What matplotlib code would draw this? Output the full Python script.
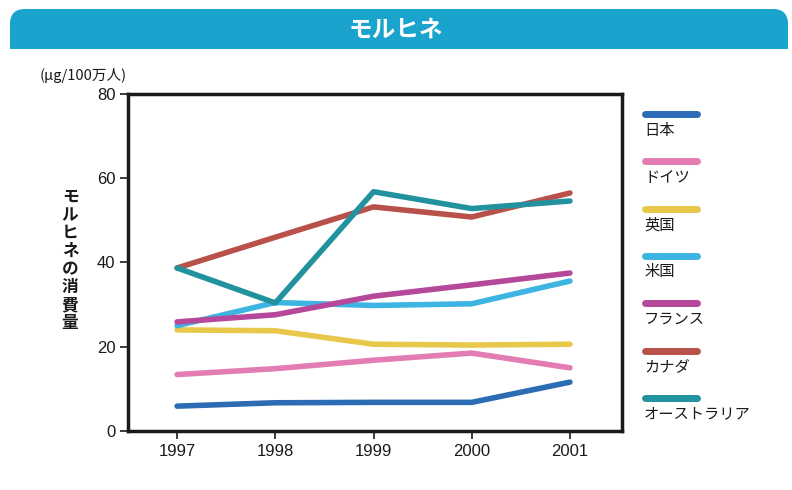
import matplotlib.pyplot as plt
from matplotlib.patches import FancyBboxPatch, Rectangle

plt.rcParams['font.family'] = ['Noto Sans CJK JP', 'DejaVu Sans']

years = [1997, 1998, 1999, 2000, 2001]
countries = ["日本", "ドイツ", "英国", "米国", "フランス", "カナダ", "オーストラリア"]
japan = [5.9, 6.7, 6.8, 6.8, 11.6]
germany = [13.4, 14.8, 16.8, 18.5, 15.0]
uk = [24.0, 23.8, 20.6, 20.4, 20.6]
usa = [25.0, 30.5, 29.8, 30.2, 35.6]
france = [25.9, 27.6, 32.0, 34.7, 37.5]
canada = [38.7, 46.0, 53.2, 50.8, 56.5]
australia = [38.7, 30.4, 56.8, 52.8, 54.6]
series = [japan, germany, uk, usa, france, canada, australia]
colors = ["#2b6cb4", "#e27cb3", "#e8c84a", "#3db4e2", "#b6489b", "#b9514b", "#22929f"]

fig = plt.figure(figsize=(7.92, 4.9), dpi=100)

# title banner: rounded top corners, square bottom
bc = "#1aa3cc"
banner = FancyBboxPatch((10 / 792, 1 - 49 / 490), 778 / 792, 40 / 490,
                        boxstyle="round,pad=0,rounding_size=0.019",
                        transform=fig.transFigure, facecolor=bc,
                        edgecolor="none", mutation_aspect=792 / 490)
fig.patches.append(banner)
fig.patches.append(Rectangle((10 / 792, 1 - 49 / 490), 778 / 792, 18 / 490,
                             transform=fig.transFigure, facecolor=bc,
                             edgecolor="none"))
fig.text(0.5, 1 - 30 / 490, "モルヒネ", color="white", fontsize=17,
         fontweight="bold", ha="center", va="center")

ax = fig.add_axes([128 / 792, 1 - 431 / 490, 494 / 792, 337 / 490])
for s, c in zip(series, colors):
    ax.plot(years, s, color=c, linewidth=4, solid_capstyle="round",
            solid_joinstyle="round")

ax.set_xlim(1996.5, 2001.53)
ax.set_ylim(0, 80)
ax.set_xticks(years)
ax.set_yticks([0, 20, 40, 60, 80])
for sp in ax.spines.values():
    sp.set_linewidth(2.5)
    sp.set_color("#1a1a1a")
ax.tick_params(length=6, width=1.2, colors="#1a1a1a", pad=3)
for lab in ax.get_xticklabels() + ax.get_yticklabels():
    lab.set_fontfamily("Liberation Sans")
    lab.set_fontsize(12)

fig.text(40 / 792, 1 - 75 / 490, "(μg/100万人)", fontsize=10.5, ha="left",
         va="center", color="#1a1a1a")
fig.text(70 / 792, 1 - 260 / 490, "\n".join("モルヒネの消費量"), fontsize=12,
         ha="center", va="center", linespacing=1.0, fontweight="bold",
         color="#1a1a1a")

# legend
for i, (name, c) in enumerate(zip(countries, colors)):
    y = 1 - (114 + i * 47.3) / 490
    fig.add_artist(plt.Line2D([645 / 792, 697 / 792], [y, y], color=c,
                              linewidth=5, solid_capstyle="round",
                              transform=fig.transFigure))
    fig.text(644 / 792, y - 16 / 490, name, fontsize=11, ha="left",
             va="center", color="#1a1a1a")

fig.savefig("out.png", dpi=100, facecolor="white")
